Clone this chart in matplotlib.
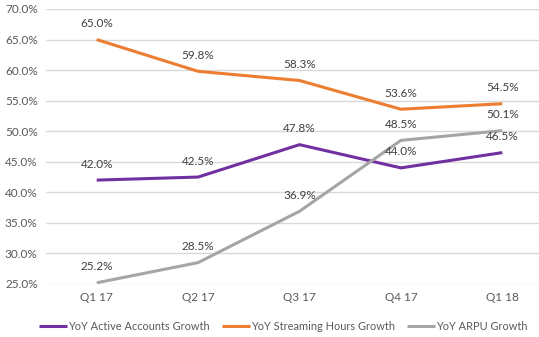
import matplotlib.pyplot as plt
from matplotlib.ticker import FuncFormatter

plt.rcParams['font.family'] = ['Lato', 'DejaVu Sans']

quarters = ["Q1 17", "Q2 17", "Q3 17", "Q4 17", "Q1 18"]
active_accounts = [42.0, 42.5, 47.8, 44.0, 46.5]
streaming_hours = [65.0, 59.8, 58.3, 53.6, 54.5]
arpu = [25.2, 28.5, 36.9, 48.5, 50.1]

series = [
    ("YoY Active Accounts Growth", active_accounts, "#7030A0"),
    ("YoY Streaming Hours Growth", streaming_hours, "#ED7D31"),
    ("YoY ARPU Growth", arpu, "#A5A5A5"),
]

fig = plt.figure(figsize=(5.39, 3.37), dpi=100)
ax = fig.add_axes([46 / 539, 53 / 337, 507 / 539, 275 / 337])

x = list(range(len(quarters)))
for name, vals, col in series:
    ax.plot(x, vals, color=col, lw=2.2, label=name, solid_capstyle="butt")
    for xi, v in zip(x, vals):
        ax.annotate(f"{v:.1f}%", (xi, v), xytext=(0, 11.5), textcoords="offset points",
                    ha="center", va="center", fontsize=8.5, color="#404040")

ax.set_xlim(-0.5, 4.5)
ax.set_ylim(25, 70)
ax.set_yticks(range(25, 71, 5))
ax.yaxis.set_major_formatter(FuncFormatter(lambda v, p: f"{v:.1f}%"))
ax.set_xticks(x)
ax.set_xticklabels(quarters)
ax.tick_params(length=0, labelsize=8.5, labelcolor="#595959", pad=6)
ax.grid(axis="y", color="#D9D9D9", lw=1)
ax.set_axisbelow(True)
for s in ax.spines.values():
    s.set_visible(False)

fig.legend(loc="center", bbox_to_anchor=(283 / 539, 11 / 337), ncol=3, frameon=False,
           fontsize=7.9, handlelength=2.6, handletextpad=0.05, columnspacing=1.1,
           labelcolor="#595959")

fig.savefig("out.png", dpi=100)
